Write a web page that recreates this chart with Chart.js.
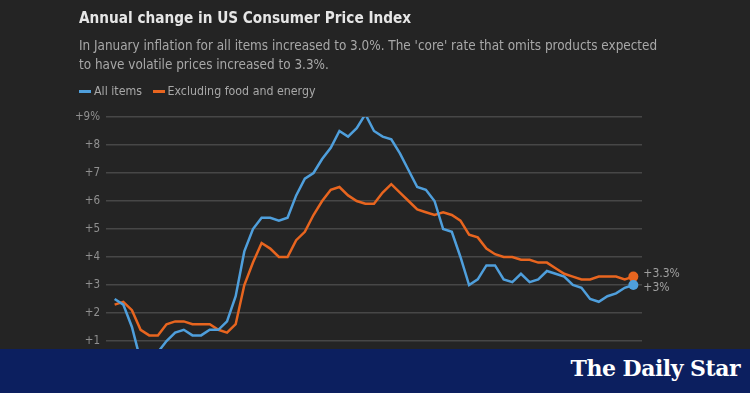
<!DOCTYPE html>
<html>
<head>
<meta charset="utf-8">
<script src="https://cdn.jsdelivr.net/npm/chart.js@4"></script>
<style>
  html, body { margin: 0; padding: 0; background: #242424; }
  #wrap { position: relative; width: 750px; height: 393px; overflow: hidden; background: #242424; }
  #chart { position: absolute; left: 0; top: 0; }
  .head { position: absolute; left: 79px; font-family: "DejaVu Sans Condensed", sans-serif; }
  #title { top: 9px; font-size: 15.2px; font-weight: bold; color: #e6e6e6; }
  #subtitle { top: 36px; font-size: 13.4px; line-height: 19px; color: #a8a8a8; width: 640px; }
  #legend { top: 84px; font-size: 12.3px; color: #a8a8a8; }
  #legend span.sw { display: inline-block; width: 12px; height: 3px; vertical-align: middle; margin-right: 3px; }
  #banner { position: absolute; left: 0; top: 349px; width: 750px; height: 44px; background: #0c1f5f; }
  #brand { position: absolute; right: 10px; top: 6px; font-family: "DejaVu Serif", serif; font-weight: bold; font-size: 22px; color: #ffffff; letter-spacing: -0.5px; }
</style>
</head>
<body>
<div id="wrap">
  <canvas id="chart" width="750" height="393"></canvas>
  <div class="head" id="title">Annual change in US Consumer Price Index</div>
  <div class="head" id="subtitle">In January inflation for all items increased to 3.0%. The 'core' rate that omits products expected<br>to have volatile prices increased to 3.3%.</div>
  <div class="head" id="legend"><span class="sw" style="background:#4f9fdc"></span>All items&nbsp;&nbsp;&nbsp;<span class="sw" style="background:#e8651f"></span>Excluding food and energy</div>
  <div id="banner"><div id="brand">The Daily Star</div></div>
</div>
<script>
// monthly, Jan 2020 - Jan 2025
const months = [];
for (let y = 2020; y <= 2025; y++) {
  for (let m = 1; m <= 12; m++) {
    if (y === 2025 && m > 1) break;
    months.push(y + '-' + String(m).padStart(2, '0'));
  }
}

const allItems = [
  2.5, 2.3, 1.5, 0.3, 0.1, 0.6, 1.0, 1.3, 1.4, 1.2, 1.2, 1.4,
  1.4, 1.7, 2.6, 4.2, 5.0, 5.4, 5.4, 5.3, 5.4, 6.2, 6.8, 7.0,
  7.5, 7.9, 8.5, 8.3, 8.6, 9.1, 8.5, 8.3, 8.2, 7.7, 7.1, 6.5,
  6.4, 6.0, 5.0, 4.9, 4.0, 3.0, 3.2, 3.7, 3.7, 3.2, 3.1, 3.4,
  3.1, 3.2, 3.5, 3.4, 3.3, 3.0, 2.9, 2.5, 2.4, 2.6, 2.7, 2.9,
  3.0
];

const coreItems = [
  2.3, 2.4, 2.1, 1.4, 1.2, 1.2, 1.6, 1.7, 1.7, 1.6, 1.6, 1.6,
  1.4, 1.3, 1.6, 3.0, 3.8, 4.5, 4.3, 4.0, 4.0, 4.6, 4.9, 5.5,
  6.0, 6.4, 6.5, 6.2, 6.0, 5.9, 5.9, 6.3, 6.6, 6.3, 6.0, 5.7,
  5.6, 5.5, 5.6, 5.5, 5.3, 4.8, 4.7, 4.3, 4.1, 4.0, 4.0, 3.9,
  3.9, 3.8, 3.8, 3.6, 3.4, 3.3, 3.2, 3.2, 3.3, 3.3, 3.3, 3.2,
  3.3
];

const yTicks = [1, 2, 3, 4, 5, 6, 7, 8, 9];
const endLabels = ['+3%', '+3.3%'];

const blue = '#4f9fdc';
const orange = '#e8651f';

function lastOnly(arr, r) {
  return arr.map((v, i) => (i === arr.length - 1 ? r : 0));
}

// labels at the end of each line
const endLabelPlugin = {
  id: 'endLabels',
  afterDatasetsDraw(chart) {
    const ctx = chart.ctx;
    ctx.save();
    ctx.font = '12px "DejaVu Sans Condensed", sans-serif';
    ctx.fillStyle = '#a0a0a0';
    ctx.textBaseline = 'middle';
    chart.data.datasets.forEach((ds, i) => {
      const meta = chart.getDatasetMeta(i);
      const pt = meta.data[meta.data.length - 1];
      const dy = i === 1 ? -3 : 3;
      ctx.fillText(endLabels[i], pt.x + 10, pt.y + dy);
    });
    ctx.restore();
  }
};

new Chart(document.getElementById('chart'), {
  type: 'line',
  data: {
    datasets: [
      {
        label: 'All items',
        data: allItems.map((v, i) => ({ x: i, y: v })),
        borderColor: blue,
        backgroundColor: blue,
        borderWidth: 2.5,
        pointRadius: lastOnly(allItems, 5),
        pointBorderWidth: 0,
        tension: 0
      },
      {
        label: 'Excluding food and energy',
        data: coreItems.map((v, i) => ({ x: i, y: v })),
        borderColor: orange,
        backgroundColor: orange,
        borderWidth: 2.5,
        pointRadius: lastOnly(coreItems, 5),
        pointBorderWidth: 0,
        tension: 0
      }
    ]
  },
  options: {
    responsive: false,
    animation: false,
    layout: { padding: { top: 117, right: 108, bottom: 24, left: 0 } },
    plugins: { legend: { display: false }, tooltip: { enabled: false } },
    scales: {
      x: {
        type: 'linear',
        min: -1,
        max: 61,
        display: false
      },
      y: {
        min: 0,
        max: 9,
        afterFit(scale) { scale.width = 106; },
        afterBuildTicks(scale) { scale.ticks = yTicks.map(v => ({ value: v })); },
        border: { display: false },
        grid: { color: '#474747', lineWidth: 1.5, drawTicks: false },
        ticks: {
          padding: 6,
          color: '#909090',
          font: { family: '"DejaVu Sans Condensed", sans-serif', size: 11.5 },
          callback: v => (v === 9 ? '+9%' : '+' + v)
        }
      }
    }
  },
  plugins: [endLabelPlugin]
});
</script>
</body>
</html>
